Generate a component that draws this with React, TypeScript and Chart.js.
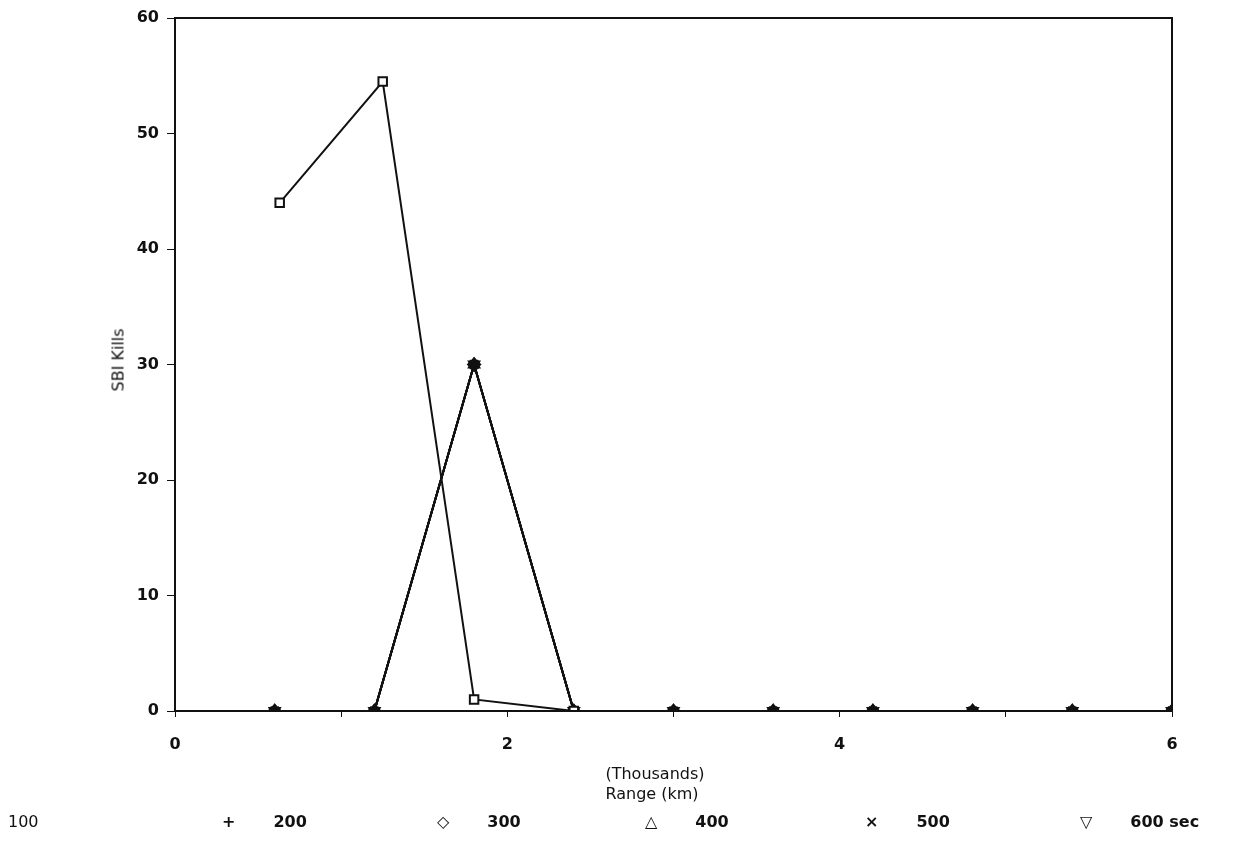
import { useRef, useEffect } from "react";
import Chart from "chart.js/auto";

const rangeSquares = [0.63, 1.25, 1.8, 2.4];
const kills100 = [44, 54.5, 1, 0];
const rangeOthers = [0.6, 1.2, 1.8, 2.4, 3.0, 3.6, 4.2, 4.8, 5.4, 6.0];
const killsOthers = [0, 0, 30, 0, 0, 0, 0, 0, 0, 0];
const otherLabels = ["200", "300", "400", "500", "600 sec"];
const otherStyles = ["cross", "rectRot", "triangle", "crossRot", "triangle"];
const legendGlyphs = ["+", "◇", "△", "×", "▽"];
const yTicks = [0, 10, 20, 30, 40, 50, 60];

const App = () => {
  const chartRef = useRef<HTMLCanvasElement>(null);

  useEffect(() => {
    document.body.style.margin = "0";
    const others = otherLabels.map((label, i) => ({
      label,
      data: rangeOthers.map((x, j) => ({ x, y: killsOthers[j] })),
      borderColor: "#111",
      backgroundColor: "#111",
      borderWidth: 2,
      pointStyle: otherStyles[i],
      pointRotation: i === 4 ? 180 : 0,
      pointRadius: 6,
      pointBorderWidth: 2,
    }));
    const chart = new Chart(chartRef.current!, {
      type: "scatter",
      data: {
        datasets: [
          {
            label: "100",
            data: rangeSquares.map((x, j) => ({ x, y: kills100[j] })),
            borderColor: "#111",
            backgroundColor: "#fff",
            borderWidth: 2,
            pointStyle: "rect",
            pointRadius: 6,
            pointBorderWidth: 2,
          },
          ...others,
        ],
      },
      options: {
        animation: false,
        responsive: false,
        showLine: true,
        layout: { padding: { top: 18, right: 61, left: 0, bottom: 0 } },
        plugins: { legend: { display: false }, tooltip: { enabled: false } },
        scales: {
          x: {
            type: "linear",
            min: 0,
            max: 6,
            afterFit: (s: any) => { s.height = 150; },
            border: { color: "#111", width: 2 },
            grid: { drawOnChartArea: false, color: "#111", tickLength: 6 },
            ticks: {
              stepSize: 1,
              color: "#111",
              font: { family: "DejaVu Sans", size: 16, weight: "bold" },
              padding: 18,
              callback: (v: any) => (v % 2 === 0 ? String(v) : ""),
            },
          },
          y: {
            min: 0,
            max: 60,
            afterFit: (s: any) => { s.width = 175; },
            afterBuildTicks: (s: any) => { s.ticks = yTicks.map((value) => ({ value })); },
            border: { color: "#111", width: 2 },
            grid: { drawOnChartArea: false, color: "#111", tickLength: 8 },
            ticks: {
              color: "#111",
              font: { family: "DejaVu Sans", size: 16, weight: "bold" },
              padding: 8,
            },
          },
        },
      },
      plugins: [
        {
          id: "box",
          afterDraw: (c: any) => {
            const { left, right, top, bottom } = c.chartArea;
            const ctx = c.ctx;
            ctx.save();
            ctx.strokeStyle = "#111";
            ctx.lineWidth = 2;
            ctx.strokeRect(left, top, right - left, bottom - top);
            ctx.restore();
          },
        },
      ],
    } as any);
    return () => chart.destroy();
  }, []);

  const text = { position: "absolute" as const, fontFamily: "DejaVu Sans", color: "#111", fontSize: 16 };

  return (
    <div style={{ position: "relative", width: 1233, height: 861, background: "#fff" }}>
      <canvas ref={chartRef} width={1233} height={861} style={{ position: "absolute", left: 0, top: 0 }}></canvas>
      <div style={{ ...text, left: 118, top: 360, transform: "translate(-50%,-50%) rotate(-90deg)", whiteSpace: "nowrap" }}>SBI Kills</div>
      <div style={{ ...text, left: 655, top: 764, transform: "translateX(-50%)" }}>(Thousands)</div>
      <div style={{ ...text, left: 652, top: 784, transform: "translateX(-50%)", whiteSpace: "nowrap" }}>Range (km)</div>
      <div style={{ ...text, left: 8, top: 812 }}>100</div>
      {otherLabels.map((l, i) => {
        const xs = [222, 437, 645, 865, 1080];
        return (
          <div key={l} style={{ ...text, left: xs[i], top: 812, fontWeight: "bold", whiteSpace: "nowrap" }}>
            <span style={{ marginRight: 38 }}>{legendGlyphs[i]}</span>{l}
          </div>
        );
      })}
    </div>
  );
};

export default App;
